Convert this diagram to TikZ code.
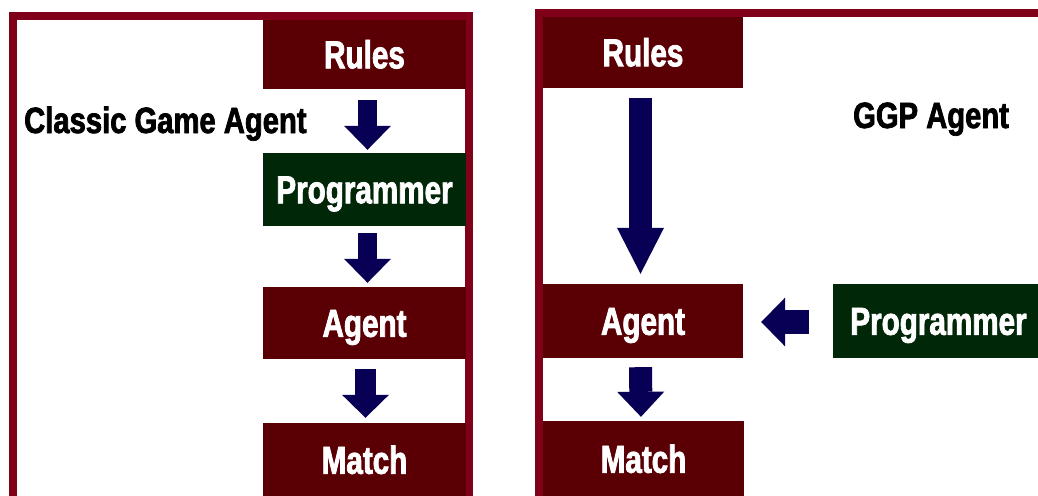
\documentclass[tikz,border=0pt]{standalone}
\usepackage{fontspec}
\newfontfamily\heavy[FakeStretch=0.76,FakeBold=2]{Liberation Sans}
\newfontfamily\heavytitle[FakeStretch=0.8,FakeBold=2]{Liberation Sans}
\usetikzlibrary{arrows.meta}
\definecolor{framered}{RGB}{128,0,26}
\definecolor{boxred}{RGB}{90,0,5}
\definecolor{boxgreen}{RGB}{0,40,8}
\definecolor{arrowblue}{RGB}{8,0,85}
\tikzset{
  box/.style={fill=boxred, inner sep=0pt, text=white,
    text height=27.5pt, text depth=0pt,
    font=\heavy\bfseries\fontsize{39}{42}\selectfont},
  greenbox/.style={box, fill=boxgreen},
  title/.style={anchor=base west, inner sep=0pt, text=black,
    font=\heavytitle\bfseries\fontsize{36.5}{40}\selectfont},
  frame/.style={draw=framered, line width=8pt},
  barrow/.style={draw=arrowblue, line cap=butt}
}
\begin{document}
\begin{tikzpicture}[x=1pt,y=-1pt]
\useasboundingbox (0,0) rectangle (1038,495);
\clip (0,0) rectangle (1038,495);
\fill[white] (0,0) rectangle (1038,495);

% outer frames
\draw[frame] (13,16) rectangle (469,540);
\draw[frame] (539,13) rectangle (1060,540);

% classic game agent pipeline
\node[box, minimum width=203pt, minimum height=69pt] (rL) at (364.5,54.5) {Rules};
\node[greenbox, minimum width=203pt, minimum height=73pt] (pL) at (364.5,189.5) {Programmer};
\node[box, minimum width=203pt, minimum height=72pt] (aL) at (364.5,323) {Agent};
\node[box, minimum width=203pt, minimum height=74pt] (mL) at (364.5,460) {Match};
\node[title] (tL) at (24,133) {Classic Game Agent};

\draw[barrow, line width=19pt, shorten <=11pt, shorten >=3pt,
  -{Triangle[length=24pt,width=47pt,line width=0pt]}]
  ([xshift=3pt]rL.south) -- ([xshift=3pt]pL.north);
\draw[barrow, line width=19pt, shorten <=7pt, shorten >=4pt,
  -{Triangle[length=24pt,width=47pt,line width=0pt]}]
  ([xshift=3pt]pL.south) -- ([xshift=3pt]aL.north);
\draw[barrow, line width=21pt, shorten <=10pt, shorten >=5pt,
  -{Triangle[length=23pt,width=47pt,line width=0pt]}]
  ([xshift=1pt]aL.south) -- ([xshift=1pt]mL.north);

% general game playing agent
\node[box, minimum width=200pt, minimum height=71pt] (rR) at (643,52.5) {Rules};
\node[box, minimum width=200pt, minimum height=74pt] (aR) at (643,321) {Agent};
\node[box, minimum width=201pt, minimum height=76pt] (mR) at (643.5,459) {Match};
\node[greenbox, minimum width=211pt, minimum height=74pt] (pR) at (938.5,321) {Programmer};
\node[title] (tR) at (853,128) {GGP Agent};

\draw[barrow, line width=23pt, shorten <=10pt, shorten >=10pt,
  -{Triangle[length=46pt,width=47pt,line width=0pt]}]
  ([xshift=-2.5pt]rR.south) -- ([xshift=-2.5pt]aR.north);
\draw[barrow, line width=23pt, shorten <=9pt, shorten >=4pt,
  -{Triangle[length=25pt,width=47pt,line width=0pt]}]
  ([xshift=-2.5pt]aR.south) -- ([xshift=-2.5pt]mR.north);
\draw[barrow, line width=24pt, shorten <=24pt, shorten >=18pt,
  -{Triangle[length=24pt,width=49pt,line width=0pt]}]
  ([yshift=-1pt]pR.west) -- ([yshift=-1pt]aR.east);
\end{tikzpicture}
\end{document}
